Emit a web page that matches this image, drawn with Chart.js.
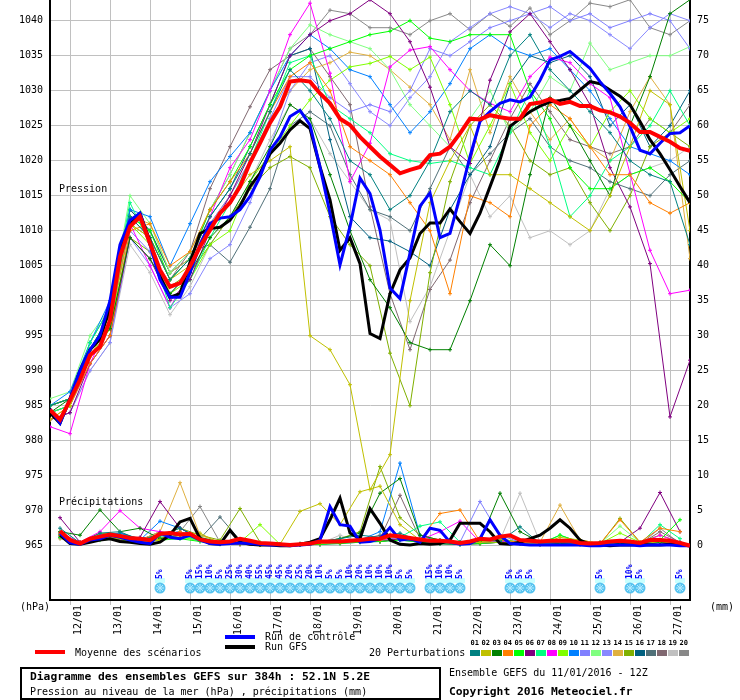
<!DOCTYPE html>
<html>
<head>
<meta charset="utf-8">
<script src="https://cdn.jsdelivr.net/npm/chart.js@4.4.1/dist/chart.umd.min.js"></script>
<style>
  body { margin: 0; background: #fff; }
  canvas { display: block; }
</style>
</head>
<body>
<canvas id="gefs" width="740" height="700"></canvas>
<script>
// ---- data ----
const dayLabels = ['12/01', '13/01', '14/01', '15/01', '16/01', '17/01', '18/01', '19/01',
    '20/01', '21/01', '22/01', '23/01', '24/01', '25/01', '26/01', '27/01'];
const dayTickHours = [12, 36, 60, 84, 108, 132, 156, 180, 204, 228, 252, 276, 300, 324, 348, 372];
const pressureTicks = [965, 970, 975, 980, 985, 990, 995, 1000, 1005, 1010, 1015, 1020, 1025, 1030, 1035, 1040];
const precipTicks = [0, 5, 10, 15, 20, 25, 30, 35, 40, 45, 50, 55, 60, 65, 70, 75];

// mean / control / GFS every 6h (0..384h)
const meanPressure = [984.4, 983, 985.8, 988.7, 992.2, 993.4, 997.2, 1006.3, 1010.6, 1012,
    1008.2, 1004.4, 1002, 1002.5, 1004.9, 1007.7, 1010.1, 1012.5, 1014, 1016.3,
    1019.7, 1022.5, 1025.4, 1027.7, 1031.3, 1031.5, 1031.3, 1029.6, 1028.2, 1026,
    1025.1, 1023.4, 1022, 1020.6, 1019.4, 1018.2, 1018.7, 1019.1, 1020.8, 1021,
    1022, 1023.9, 1026, 1025.9, 1026.5, 1026.2, 1026, 1026, 1028.1, 1028.3,
    1028.8, 1028.1, 1028.4, 1027.8, 1027.8, 1027.2, 1026.9, 1026.3, 1025.4, 1024.1,
    1024.1, 1023.4, 1022.7, 1021.8, 1021.4];
const controlPressure = [984.5, 982.5, 986, 990, 993, 995, 1000, 1008, 1011.5, 1012.5,
    1008, 1003, 1000.5, 1000.5, 1004, 1008, 1011, 1011.8, 1012, 1013,
    1014.9, 1017.7, 1021.5, 1023.4, 1026.3, 1027.2, 1025.1, 1019.1, 1012.5, 1005.1,
    1010.6, 1017.5, 1015.3, 1010.1, 1001.8, 1000.3, 1006.8, 1013.5, 1015.4, 1009,
    1009.6, 1014.9, 1020.6, 1025.6, 1027, 1028.2, 1028.7, 1028.4, 1029.1, 1031.5,
    1034.4, 1034.9, 1035.6, 1034.4, 1033.2, 1031.3, 1029.6, 1027.7, 1024.9, 1021.5,
    1021, 1022.5, 1023.9, 1024, 1025];
const gfsPressure = [984, 982.5, 986, 990, 993, 994.5, 999, 1007, 1011, 1012.5,
    1008.5, 1003.5, 1000.5, 1001, 1005.5, 1009.6, 1010.3, 1010.5, 1011.5, 1013.5,
    1016.3, 1018.2, 1021, 1022.5, 1024.4, 1025.7, 1024.6, 1019.1, 1014.4, 1007.2,
    1009, 1005.3, 995.3, 994.6, 1001, 1004.4, 1006.1, 1009.6, 1011.1, 1011.1,
    1013.1, 1011.3, 1009.6, 1012.5, 1016.3, 1020.1, 1024.9, 1026, 1027, 1027.8,
    1028.4, 1028.6, 1028.9, 1030.1, 1031.3, 1031, 1030.1, 1029.2, 1028, 1025.6,
    1023, 1021, 1018.7, 1016.3, 1014];

// precipitation every 6h (6..384h), mm
const meanPrecip = [2.1, 0.8, 0.3, 1.0, 1.3, 1.6, 1.4, 1.1, 1.0, 0.8,
    1.7, 1.8, 1.6, 1.7, 0.9, 0.6, 0.5, 0.6, 1.0, 0.7,
    0.4, 0.3, 0.2, 0.1, 0.2, 0.3, 0.6, 0.6, 0.6, 0.7,
    0.8, 1.0, 1.0, 1.5, 1.3, 1.1, 0.9, 0.7, 0.7, 0.6,
    0.4, 0.6, 1.0, 0.9, 1.3, 1.5, 0.8, 0.7, 0.6, 0.7,
    0.7, 0.7, 0.4, 0.3, 0.4, 0.6, 0.7, 0.6, 0.4, 0.8,
    0.8, 0.7, 0.4, 0];
const controlPrecip = [1.8, 0.4, 0.2, 0.8, 1.0, 1.5, 1.2, 0.8, 0.5, 0.3,
    1.8, 1.2, 1.0, 1.5, 0.8, 0.3, 0.2, 0.3, 0.4, 0.3,
    0.2, 0.1, 0.1, 0.0, 0.1, 0.2, 0.8, 5.6, 3.0, 2.8,
    0.5, 0.6, 1.0, 2.6, 0.8, 1.0, 0.5, 2.5, 2.2, 0.5,
    0.2, 0.3, 1.0, 3.7, 1.5, 0.3, 0.2, 0.1, 0.1, 0.1,
    0.1, 0.1, 0.1, 0.0, 0.0, 0.1, 0.1, 0.1, 0.0, 0.1,
    0.1, 0.1, 0.0, 0.0];
const gfsPrecip = [1.5, 0.3, 0.2, 0.5, 0.8, 1.0, 0.6, 0.5, 0.3, 0.2,
    0.5, 1.5, 3.4, 3.9, 1.0, 0.3, 0.2, 2.2, 0.5, 0.2,
    0.1, 0.1, 0.0, 0.0, 0.2, 0.5, 1.0, 3.7, 6.8, 1.8,
    1.0, 5.3, 3.2, 0.8, 0.2, 0.1, 0.3, 0.2, 0.3, 0.8,
    3.2, 3.2, 3.2, 2.0, 0.3, 0.2, 0.5, 1.0, 1.5, 2.5,
    3.7, 2.5, 0.8, 0.2, 0.1, 0.0, 0.1, 0.1, 0.2, 0.1,
    0.1, 0.2, 0.1, 0.0];

// 20 perturbations, pressure every 12h (0..384h)
const pres01 = [985, 986, 993, 998, 1012, 1009, 1003, 1006, 1012, 1016, 1021, 1027, 1033,
    1030, 1026, 1020, 1018, 1013, 1015, 1020, 1027, 1030, 1028, 1035, 1038, 1033, 1030, 1027, 1024, 1020, 1018, 1017, 1008];
const pres02 = [983, 985, 992, 997, 1011, 1009, 1003, 1005, 1011, 1014, 1018, 1020, 1022,
    995, 993, 988, 973, 978, 1000, 1014, 1020, 1025, 1018, 1018, 1016, 1014, 1012, 1010, 1015, 1022, 1030, 1028, 1010];
const pres03 = [984, 986, 993, 996, 1009, 1006, 1001, 1004, 1009, 1012, 1017, 1022, 1028,
    1026, 1018, 1010, 1003, 999, 994, 993, 993, 1000, 1008, 1005, 1018, 1029, 1025, 1020, 1015, 1025, 1032, 1041, 1043];
const pres04 = [983, 985, 991, 995, 1010, 1011, 1005, 1007, 1013, 1017, 1021, 1027, 1032,
    1034, 1030, 1022, 1020, 1018, 1014, 1010, 1001, 1015, 1014, 1012, 1025, 1028, 1026, 1022, 1018, 1018, 1014, 1012.5, 1014];
const pres05 = [985, 986, 993, 998, 1012, 1010, 1003, 1006, 1013, 1017, 1022, 1028, 1033,
    1035, 1036, 1037, 1038, 1038.5, 1040, 1037.5, 1037, 1038, 1038, 1038, 1030, 1026, 1019, 1016, 1016, 1018, 1019, 1017, 1014];
const pres06 = [983, 984, 991, 995, 1009, 1006, 1000, 1003, 1010, 1015, 1021, 1028, 1035,
    1038, 1040, 1041, 1043, 1041, 1037, 1030.5, 1022, 1019.6, 1031.5, 1038.4, 1041, 1037, 1033, 1028, 1019, 1013.4, 1005.3, 983.4, 991.5];
const pres07 = [984, 985, 994, 999, 1014, 1008, 999, 1003, 1009, 1014, 1020, 1027, 1034,
    1035, 1028, 1026, 1024, 1021, 1020, 1019.6, 1020, 1019, 1018, 1024, 1030, 1022, 1012, 1015, 1020, 1022, 1025, 1030, 1025];
const pres08 = [982, 981, 991, 997, 1011, 1005, 999, 1004, 1012, 1019, 1023, 1030, 1038,
    1042.5, 1032.5, 1017, 1022.5, 1033.4, 1035.8, 1036.3, 1033, 1030, 1028.2, 1027, 1032, 1034.8, 1034, 1031, 1029, 1018.2, 1007.2, 1001, 1001.5];
const pres09 = [984, 985, 992, 996, 1011, 1008, 1001, 1003, 1008, 1010, 1017, 1021, 1025,
    1028.7, 1031.5, 1033.4, 1033.9, 1034.9, 1033, 1034.8, 1028, 1019.6, 1025, 1031, 1024, 1020, 1025, 1022, 1027, 1030, 1026, 1024, 1026];
const pres10 = [985, 987, 994, 1000, 1013, 1012, 1005, 1011, 1017, 1020.6, 1024, 1030, 1035,
    1038, 1036, 1033, 1032, 1028, 1024, 1027, 1031, 1036, 1038, 1036, 1035, 1036, 1033, 1030, 1026, 1022, 1021, 1020, 1018];
const pres11 = [984, 985, 991, 995, 1010, 1007, 1001, 1004, 1011, 1015, 1020, 1026, 1032,
    1032, 1029, 1027, 1028, 1027, 1030, 1036, 1035, 1037, 1039, 1040, 1041, 1042, 1040, 1041, 1039, 1040, 1041, 1040, 1036];
const pres12 = [986, 987, 995, 999, 1015, 1011, 1004, 1007, 1013, 1018, 1024, 1030, 1036,
    1039.4, 1038, 1037, 1036, 1033, 1028, 1025, 1022, 1026, 1030, 1024, 1027, 1032, 1030, 1036.8, 1033, 1034, 1035, 1035, 1036.3];
const pres13 = [983, 984, 990, 994, 1009, 1005, 999, 1001, 1006, 1008, 1014, 1022, 1030,
    1034, 1035, 1031, 1027, 1025, 1029, 1032, 1037, 1039, 1041, 1042, 1041, 1039, 1041, 1040, 1038, 1036, 1039, 1041, 1040];
const pres14 = [985, 986, 993, 997, 1012, 1011, 1004, 1006, 1011, 1015, 1020, 1026, 1030,
    1033, 1034, 1035.5, 1035, 1033, 1030.5, 1028, 1023, 1033, 1024, 1032, 1027, 1023, 1026, 1022, 1020, 1027, 1032, 1028, 1006];
const pres15 = [984, 985, 992, 996, 1009, 1007, 1002, 1004, 1008, 1012, 1016, 1019, 1020.6,
    1019, 1012, 1008, 1005, 992.5, 985, 1004, 1017, 1025, 1028, 1025, 1020, 1018, 1019, 1014, 1010, 1015, 1022, 1024, 1022];
const pres16 = [985, 986, 994, 999, 1013, 1010, 1004, 1006, 1012, 1016, 1022, 1028, 1035,
    1036, 1023, 1012, 1009, 1008.5, 1007, 1005, 1013, 1018, 1022, 1031, 1035, 1034, 1035, 1032, 1025, 1028, 1022, 1025, 1030];
const pres17 = [985, 986, 993, 998, 1013, 1010, 1004, 1007, 1008, 1005.5, 1010.5, 1016, 1025,
    1027, 1025, 1018, 1013, 1012, 1010, 1016, 1022, 1018, 1021, 1024, 1026, 1022, 1020, 1019, 1017, 1016, 1015, 1018, 1020];
const pres18 = [984, 985, 993, 998, 1012, 1009, 1003, 1007, 1016, 1022, 1027.7, 1033, 1035,
    1036, 1032, 1028, 1013.4, 1001, 993, 1001.6, 1005.8, 1014, 1020, 1026, 1031, 1027, 1023, 1022, 1021, 1022, 1026, 1024, 1028];
const pres19 = [983, 984, 990, 994, 1008, 1004, 998, 1002, 1008, 1012, 1017, 1023, 1028,
    1026, 1021, 1017, 1013, 1011.5, 997, 1002, 1010, 1018, 1012, 1015, 1009, 1010, 1008, 1010, 1016, 1018, 1019, 1020, 1022];
const pres20 = [985, 986, 993, 997, 1011, 1009, 1003, 1006, 1013, 1018, 1024, 1030, 1036,
    1038, 1041.5, 1041, 1039, 1039, 1038, 1040, 1041, 1038.7, 1041, 1039.2, 1041.8, 1038, 1040, 1042.5, 1042, 1043, 1039, 1038, 1040];

// 20 perturbations, precipitation every 12h (6..378h), mm
const rain01 = [2.5, 0.4, 1.8, 2.0, 0.8, 1.5, 2.5, 1.0, 0.5, 0.8, 0.3, 0.2, 0.1, 0.6, 1.0, 1.5, 1.2, 1.8, 0.6, 0.3, 0.2, 1.0, 0.6, 2.7, 0.3, 0.5, 0.3, 0.2, 0.5, 0.3, 0.8, 0.3];
const rain02 = [1.8, 0.3, 1.2, 1.0, 0.5, 0.8, 1.5, 1.8, 0.3, 0.2, 0.1, 0.2, 4.9, 6.0, 3.0, 7.7, 8.5, 3.0, 0.8, 0.5, 0.3, 0.5, 0.5, 0.3, 0.2, 1.2, 0.8, 0.3, 0.5, 0.2, 0.6, 0.3];
const rain03 = [2.0, 1.5, 5.1, 2.0, 2.5, 1.0, 1.5, 1.2, 0.5, 0.3, 0.2, 0.1, 0.3, 0.5, 1.0, 1.8, 7.5, 9.6, 1.5, 0.8, 0.5, 0.6, 7.5, 2.0, 0.5, 0.3, 0.2, 0.5, 0.3, 0.2, 0.5, 0.3];
const rain04 = [1.5, 0.5, 1.0, 1.2, 0.6, 1.0, 2.0, 0.8, 0.3, 0.5, 0.2, 0.1, 0.2, 0.3, 0.5, 1.0, 0.8, 1.5, 0.8, 4.6, 5.1, 0.6, 0.8, 0.5, 0.3, 0.5, 0.8, 0.3, 3.7, 0.5, 2.5, 2.0];
const rain05 = [1.2, 0.3, 0.8, 1.0, 0.5, 0.8, 1.0, 0.6, 0.2, 0.3, 0.1, 0.1, 0.1, 0.2, 0.3, 0.5, 0.6, 0.8, 0.5, 0.3, 0.2, 0.3, 0.5, 0.3, 0.2, 1.5, 0.5, 0.3, 0.5, 0.3, 0.8, 3.7];
const rain06 = [4.0, 0.5, 1.0, 0.8, 1.2, 6.3, 2.5, 1.0, 0.3, 0.2, 0.1, 0.1, 0.2, 0.3, 0.5, 0.8, 0.6, 1.0, 0.5, 0.3, 0.2, 0.3, 0.5, 0.3, 0.2, 0.3, 0.5, 0.3, 0.5, 2.5, 7.6, 2.0];
const rain07 = [1.5, 0.4, 1.2, 1.5, 0.8, 1.2, 1.5, 0.8, 0.3, 0.5, 0.2, 0.1, 0.1, 0.2, 0.5, 0.8, 1.0, 1.2, 2.8, 3.4, 0.5, 0.6, 0.8, 0.5, 0.3, 1.5, 0.5, 0.3, 0.5, 0.3, 3.0, 1.0];
const rain08 = [1.8, 0.5, 2.0, 5.0, 2.5, 2.0, 1.5, 1.0, 0.3, 0.2, 0.1, 0.1, 0.2, 0.5, 0.6, 1.0, 0.8, 1.2, 0.8, 2.0, 3.5, 0.5, 0.6, 0.5, 0.3, 0.5, 0.3, 0.2, 0.5, 0.3, 1.5, 0.5];
const rain09 = [1.5, 0.3, 1.0, 0.8, 0.6, 1.0, 1.2, 0.8, 0.3, 0.5, 3.0, 0.2, 0.2, 0.3, 0.5, 0.8, 0.6, 1.0, 0.6, 0.3, 0.2, 0.5, 0.8, 0.5, 0.3, 0.8, 0.5, 0.3, 1.8, 0.5, 0.8, 0.3];
const rain10 = [1.6, 0.5, 1.5, 1.8, 0.8, 3.5, 2.5, 1.0, 0.5, 0.3, 0.2, 0.1, 0.1, 0.2, 0.5, 0.8, 2.0, 11.8, 1.5, 0.5, 0.3, 0.5, 0.6, 0.5, 0.2, 0.3, 0.2, 0.1, 0.3, 0.2, 0.5, 0.2];
const rain11 = [1.2, 0.3, 1.0, 0.8, 0.5, 1.5, 2.0, 0.8, 0.3, 0.2, 0.1, 0.1, 0.1, 0.2, 0.3, 0.5, 0.6, 0.8, 0.5, 0.3, 0.5, 6.3, 1.5, 0.5, 0.3, 0.5, 0.3, 0.2, 0.3, 0.2, 0.5, 0.2];
const rain12 = [1.5, 0.4, 1.2, 1.5, 0.8, 1.0, 1.2, 0.8, 0.3, 0.5, 0.2, 0.1, 0.1, 0.3, 0.5, 0.8, 0.6, 1.0, 0.6, 0.3, 0.2, 0.3, 0.5, 0.3, 0.2, 0.5, 0.8, 0.3, 2.8, 0.5, 0.8, 0.3];
const rain13 = [1.3, 0.3, 1.0, 1.0, 0.6, 1.2, 1.5, 0.6, 0.3, 0.3, 0.1, 0.1, 0.1, 0.2, 0.4, 0.6, 0.8, 1.2, 0.5, 0.3, 0.2, 0.4, 0.5, 0.3, 0.2, 0.4, 0.3, 0.2, 0.3, 0.2, 0.5, 0.2];
const rain14 = [1.0, 0.5, 1.5, 1.2, 0.8, 2.0, 9.0, 1.5, 0.5, 0.3, 0.2, 0.1, 0.1, 0.2, 0.5, 0.8, 0.6, 1.0, 0.8, 0.5, 0.3, 0.5, 1.5, 0.8, 0.5, 5.8, 0.8, 0.3, 0.5, 0.3, 0.8, 0.3];
const rain15 = [1.5, 0.5, 1.8, 1.5, 0.8, 1.5, 2.5, 1.5, 0.8, 5.3, 0.5, 0.2, 0.1, 0.5, 1.0, 2.0, 11.3, 4.0, 1.5, 0.8, 0.5, 0.8, 1.0, 0.5, 0.3, 0.5, 0.3, 0.2, 3.9, 0.5, 1.5, 0.5];
const rain16 = [1.8, 0.5, 1.5, 1.8, 1.0, 1.5, 2.0, 1.0, 0.5, 0.3, 0.2, 0.1, 0.1, 0.3, 0.5, 0.8, 1.0, 1.5, 0.8, 0.5, 0.3, 0.8, 0.5, 0.5, 0.3, 0.5, 0.3, 0.2, 0.3, 0.2, 0.5, 0.2];
const rain17 = [1.5, 0.5, 1.2, 1.5, 0.8, 2.0, 1.5, 1.0, 4.1, 0.8, 0.3, 0.2, 0.1, 0.2, 0.5, 0.8, 1.5, 1.2, 0.8, 0.5, 0.3, 0.5, 0.6, 0.5, 0.3, 0.5, 0.3, 0.2, 0.3, 0.2, 0.5, 0.2];
const rain18 = [1.2, 0.3, 1.0, 1.2, 0.6, 1.5, 1.8, 0.8, 0.3, 0.2, 0.1, 0.1, 0.1, 0.2, 0.4, 0.8, 1.0, 7.2, 1.0, 0.5, 0.3, 0.5, 0.5, 0.3, 0.2, 0.4, 0.3, 0.2, 0.3, 0.2, 2.0, 0.5];
const rain19 = [1.0, 0.3, 0.8, 1.0, 0.5, 1.0, 1.5, 0.6, 0.3, 0.5, 0.2, 0.1, 0.1, 0.3, 1.5, 0.5, 1.0, 0.8, 0.5, 0.3, 0.2, 0.4, 0.8, 7.5, 0.5, 0.5, 0.3, 0.2, 0.3, 0.2, 0.5, 0.2];
const rain20 = [1.6, 0.5, 1.5, 1.5, 1.0, 1.5, 2.0, 5.6, 0.5, 0.3, 0.2, 0.1, 0.1, 0.2, 0.5, 0.8, 0.6, 1.0, 0.6, 0.3, 0.2, 0.3, 0.5, 0.3, 0.2, 0.3, 0.2, 0.1, 0.3, 0.2, 2.5, 0.3];

const pertColors = ['#008080', '#c0c000', '#008000', '#ff8000', '#00ff00', '#800080', '#00ff80',
    '#ff00ff', '#80ff00', '#0080ff', '#8080ff', '#80ff80', '#8888ff', '#e0b040', '#80b000',
    '#006080', '#507078', '#806870', '#c0c0c0', '#888888'];

// snow probability (hour, %)
const snowHours = [66, 84, 90, 96, 102, 108, 114, 120, 126, 132, 138, 144, 150, 156, 162, 168,
    174, 180, 186, 192, 198, 204, 210, 216, 228, 234, 240, 246, 276, 282, 288, 330, 348, 354, 378];
const snowPct = [5, 5, 15, 10, 5, 25, 30, 40, 55, 45, 45, 20, 25, 20, 10, 5,
    5, 10, 20, 10, 10, 10, 5, 5, 15, 10, 10, 5, 5, 5, 5, 5, 10, 5, 5];

// ---- build ----
const steps6 = Array.from({ length: 65 }, (_, i) => i * 6);
const steps6p = Array.from({ length: 64 }, (_, i) => 6 + i * 6);
const steps12 = Array.from({ length: 33 }, (_, i) => i * 12);
const steps12p = Array.from({ length: 32 }, (_, i) => 6 + i * 12);

function pts(hours, vals) {
    return vals.map((v, i) => ({ x: hours[i], y: v }));
}

const pertPressure = [pres01, pres02, pres03, pres04, pres05, pres06, pres07, pres08, pres09, pres10,
    pres11, pres12, pres13, pres14, pres15, pres16, pres17, pres18, pres19, pres20];
const pertRain = [rain01, rain02, rain03, rain04, rain05, rain06, rain07, rain08, rain09, rain10,
    rain11, rain12, rain13, rain14, rain15, rain16, rain17, rain18, rain19, rain20];

const MONO = '"DejaVu Sans Mono", "Liberation Mono", monospace';

function mainLine(hours, vals, color, width, axis) {
    return {
        data: pts(hours, vals),
        borderColor: color,
        backgroundColor: color,
        borderWidth: width,
        pointRadius: 0,
        tension: 0,
        fill: false,
        yAxisID: axis
    };
}

function pertLine(hours, vals, color, axis) {
    return {
        data: pts(hours, vals),
        borderColor: color,
        backgroundColor: color,
        borderWidth: 1,
        pointStyle: 'cross',
        pointRadius: 2,
        pointBorderWidth: 1,
        tension: 0,
        fill: false,
        yAxisID: axis
    };
}

const datasets = [
    mainLine(steps6, meanPressure, '#ff0000', 4, 'y'),
    mainLine(steps6p, meanPrecip, '#ff0000', 4, 'y2'),
    mainLine(steps6, controlPressure, '#0000ff', 3, 'y'),
    mainLine(steps6p, controlPrecip, '#0000ff', 3, 'y2'),
    mainLine(steps6, gfsPressure, '#000000', 3, 'y'),
    mainLine(steps6p, gfsPrecip, '#000000', 3, 'y2')
];
pertPressure.forEach((p, i) => datasets.push(pertLine(steps12, p, pertColors[i], 'y')));
pertRain.forEach((r, i) => datasets.push(pertLine(steps12p, r, pertColors[i], 'y2')));

// snow icons + percentages under the curves
const snowPlugin = {
    id: 'snow',
    afterDatasetsDraw(chart) {
        const ctx = chart.ctx;
        const xs = chart.scales.x;
        ctx.save();
        snowHours.forEach((h, i) => {
            const px = xs.getPixelForValue(h);
            ctx.fillStyle = '#c8ffff';
            ctx.fillRect(px - 5, 578, 10, 5);
            ctx.fillStyle = '#58c4f0';
            ctx.beginPath();
            ctx.arc(px, 588, 5.5, 0, Math.PI * 2);
            ctx.fill();
            ctx.strokeStyle = '#b8ecff';
            ctx.lineWidth = 1;
            ctx.beginPath();
            ctx.moveTo(px - 4, 588); ctx.lineTo(px + 4, 588);
            ctx.moveTo(px, 584); ctx.lineTo(px, 592);
            ctx.moveTo(px - 3, 585); ctx.lineTo(px + 3, 591);
            ctx.moveTo(px + 3, 585); ctx.lineTo(px - 3, 591);
            ctx.stroke();
            ctx.save();
            ctx.translate(px, 579);
            ctx.rotate(-Math.PI / 2);
            ctx.fillStyle = '#0000ff';
            ctx.font = 'bold 8px ' + MONO;
            ctx.textAlign = 'left';
            ctx.textBaseline = 'middle';
            ctx.fillText(snowPct[i] + '%', 0, 0);
            ctx.restore();
        });
        ctx.restore();
    }
};

// white page, captions and legend block
const decorPlugin = {
    id: 'decor',
    beforeDraw(chart) {
        const ctx = chart.ctx;
        ctx.save();
        ctx.fillStyle = '#fff';
        ctx.fillRect(0, 0, chart.width, chart.height);
        ctx.restore();
    },
    afterDraw(chart) {
        const ctx = chart.ctx;
        ctx.save();
        ctx.fillStyle = '#000';
        ctx.textBaseline = 'middle';
        ctx.textAlign = 'left';
        ctx.font = '10px ' + MONO;
        ctx.fillText('Pression', 59, 189);
        ctx.fillText('Précipitations', 59, 502);
        ctx.fillText('(hPa)', 20, 607);
        ctx.fillText('(mm)', 710, 607);

        ctx.fillStyle = '#ff0000';
        ctx.fillRect(35, 650, 30, 4);
        ctx.fillStyle = '#0000ff';
        ctx.fillRect(225, 635, 30, 4);
        ctx.fillStyle = '#000';
        ctx.fillRect(225, 645, 30, 4);
        ctx.fillText('Moyenne des scénarios', 75, 653);
        ctx.fillText('Run de contrôle', 265, 637);
        ctx.fillText('Run GFS', 265, 647);
        ctx.fillText('20 Perturbations', 369, 653);

        ctx.font = 'bold 7px ' + MONO;
        pertColors.forEach((c, i) => {
            const x = 470 + i * 11;
            ctx.fillStyle = '#000';
            ctx.fillText(String(i + 1).padStart(2, '0'), x + 0.5, 643);
            ctx.fillStyle = c;
            ctx.fillRect(x, 650, 10, 6);
        });

        ctx.strokeStyle = '#000';
        ctx.lineWidth = 2;
        ctx.strokeRect(21, 668, 419, 31);
        ctx.fillStyle = '#000';
        ctx.font = 'bold 11.3px ' + MONO;
        ctx.fillText('Diagramme des ensembles GEFS sur 384h : 52.1N 5.2E', 30, 677);
        ctx.font = '10px ' + MONO;
        ctx.fillText('Pression au niveau de la mer (hPa) , précipitations (mm)', 30, 692);
        ctx.fillText('Ensemble GEFS du 11/01/2016 - 12Z', 449, 673);
        ctx.font = 'bold 11.3px ' + MONO;
        ctx.fillText('Copyright 2016 Meteociel.fr', 449, 692);
        ctx.restore();
    }
};

// 1040 hPa sits at y=20.7, 7 px per hPa, plot bottom at y=600
const yTop = 1040 + 20.7 / 7;
const yBottom = 965 - (600 - 545.7) / 7;

function noPadV(scale) {
    scale.width = 50;
    scale.paddingTop = 0;
    scale.paddingBottom = 0;
}

new Chart(document.getElementById('gefs'), {
    type: 'line',
    data: { datasets: datasets },
    plugins: [snowPlugin, decorPlugin],
    options: {
        responsive: false,
        animation: false,
        layout: { padding: 0, autoPadding: false },
        plugins: {
            legend: { display: false },
            tooltip: { enabled: false },
            title: { display: false }
        },
        scales: {
            x: {
                type: 'linear',
                min: 0,
                max: 384,
                afterBuildTicks: (scale) => { scale.ticks = dayTickHours.map(v => ({ value: v })); },
                afterFit: (scale) => { scale.height = 100; scale.paddingLeft = 0; scale.paddingRight = 0; },
                grid: { color: '#c0c0c0', tickColor: '#c0c0c0', tickLength: 5 },
                border: { display: true, color: '#000', width: 2 },
                ticks: {
                    color: '#000',
                    font: { family: MONO, size: 10 },
                    minRotation: 90,
                    maxRotation: 90,
                    padding: 0,
                    labelOffset: 8,
                    autoSkip: false,
                    callback: (v) => dayLabels[dayTickHours.indexOf(v)]
                }
            },
            y: {
                position: 'left',
                min: yBottom,
                max: yTop,
                afterBuildTicks: (scale) => { scale.ticks = pressureTicks.map(v => ({ value: v })); },
                afterFit: noPadV,
                grid: { color: '#c0c0c0', drawTicks: false },
                border: { display: true, color: '#000', width: 2 },
                ticks: {
                    color: '#000',
                    padding: 7,
                    font: { family: MONO, size: 10 },
                    callback: (v) => String(v)
                }
            },
            y2: {
                position: 'right',
                min: yBottom - 965,
                max: yTop - 965,
                afterBuildTicks: (scale) => { scale.ticks = precipTicks.map(v => ({ value: v })); },
                afterFit: noPadV,
                grid: { display: false, drawTicks: false },
                border: { display: true, color: '#000', width: 2 },
                ticks: {
                    color: '#000',
                    padding: 7,
                    font: { family: MONO, size: 10 },
                    callback: (v) => String(v)
                }
            }
        }
    }
});
</script>
</body>
</html>
